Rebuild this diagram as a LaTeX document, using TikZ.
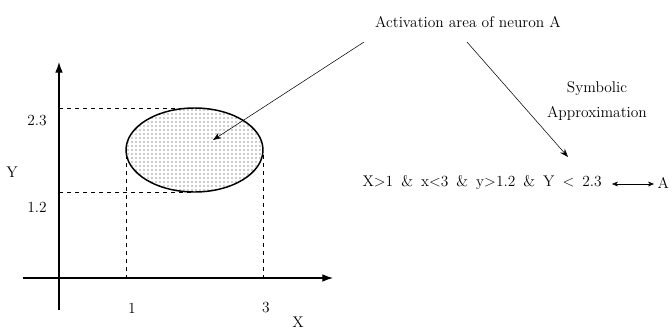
\documentclass[tikz,border=0pt]{standalone}
\usepackage{amsmath}
\usepackage{tikz}
\usetikzlibrary{arrows.meta, positioning, patterns}

\begin{document}
\begin{tikzpicture}[x=0.75pt, y=0.75pt, every node/.style={font=\fontsize{11.6}{13}\selectfont, inner sep=1pt},
  guide/.style={dashed, thin},
  pointer/.style={-{Stealth[length=2.2mm, width=1.6mm]}, thin},
  axis/.style={thick, -{Latex[length=2.8mm, width=2mm]}}]
  \useasboundingbox (0,0) rectangle (672,330);

  % axes
  \coordinate (o) at (59,52);
  \coordinate (ybot) at (59,20);
  \coordinate (ytop) at (59,268);
  \coordinate (xleft) at (23,52);
  \coordinate (xright) at (333,52);
  \draw[axis] (ybot) -- (ytop);
  \draw[axis] (xleft) -- (xright);

  % projections of the area
  \coordinate (ey) at (59,222);
  \coordinate (eyb) at (59,138);
  \coordinate (ex) at (126,52);
  \coordinate (exr) at (263,52);
  \coordinate (c) at (194.5,180);
  \coordinate (etop) at (194.5,222);
  \coordinate (ebot) at (194.5,138);
  \coordinate (eleft) at (126,175);
  \coordinate (eright) at (263,175);
  \draw[guide] (ey) -- (etop);
  \draw[guide] (eyb) -- (ebot);
  \draw[guide] (eleft) -- (ex);
  \draw[guide] (eright) -- (exr);

  % activation area
  \fill[white] (c) ellipse [x radius=68.5, y radius=42];
  \fill[pattern=dots, pattern color=black!85] (c) ellipse [x radius=68.5, y radius=42];
  \draw[line width=1.1pt] (c) ellipse [x radius=68.5, y radius=42];
  \coordinate (inside) at (213,190);

  % tick labels
  \node (l23) at (37,209) {2.3};
  \node (l12) at (37,123) {1.2};
  \node (ly) at (12,158) {Y};
  \node (l1) at (132,22) {1};
  \node (l3) at (266,22) {3};
  \node (lx) at (298,8) {X};

  % texts on the right
  \node (act) at (468,308) {Activation area of neuron A};
  \node (sym) at (597,241) {Symbolic};
  \node (appr) at (597,217) {Approximation};
  \node[anchor=west] (rule) at (361,147) {\spaceskip=6pt X{\char`\>}1 \& x{\char`\<}3 \& y{\char`\>}1.2 \& Y {\char`\<} 2.3};
  \node[anchor=west] (a) at (656,147) {A};
  \coordinate (ruleend) at (612,146);
  \coordinate (aleft) at (654,146);

  \coordinate (p1) at (364,288);
  \coordinate (p2) at (467,288);
  \coordinate (q2) at (568,173);
  \draw[pointer] (p1) -- (inside);
  \draw[pointer] (p2) -- (q2);
  \draw[{Stealth[length=1.6mm, width=1.3mm]}-{Stealth[length=1.6mm, width=1.3mm]}, thin] (ruleend) -- (aleft);
\end{tikzpicture}
\end{document}
